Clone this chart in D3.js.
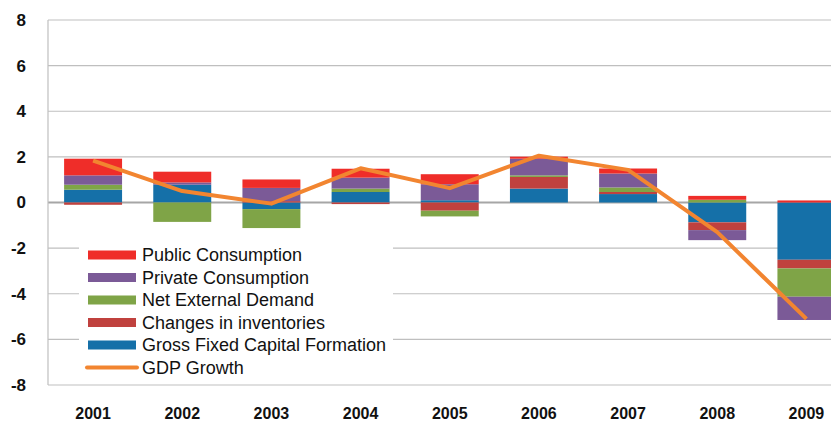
<!DOCTYPE html>
<html>
<head>
<meta charset="utf-8">
<script src="https://cdn.jsdelivr.net/npm/d3@7"></script>
<style>
body { margin: 0; background: #fff; }
svg { display: block; }
</style>
</head>
<body>
<script>
var width = 831,
    height = 428;

var years = ["2001", "2002", "2003", "2004", "2005", "2006", "2007", "2008", "2009"];
var gfcf        = [0.56, 0.78, -0.29, 0.46, 0.10, 0.61, 0.37, -0.87, -2.51];
var inventories = [-0.10, 0.00, 0.06, -0.07, -0.36, 0.51, 0.09, -0.34, -0.38];
var netExternal = [0.22, -0.85, -0.83, 0.15, -0.25, 0.07, 0.20, 0.12, -1.24];
var privateCons = [0.41, 0.10, 0.58, 0.48, 0.70, 0.73, 0.61, -0.44, -1.02];
var publicCons  = [0.73, 0.47, 0.37, 0.39, 0.44, 0.09, 0.22, 0.17, 0.09];
var gdpGrowth   = [1.84, 0.50, -0.05, 1.50, 0.63, 2.05, 1.43, -1.30, -5.10];
var yTicks = [-8, -6, -4, -2, 0, 2, 4, 6, 8];

var series = [
    { key: "gfcf", name: "Gross Fixed Capital Formation", color: "#1570a8", values: gfcf },
    { key: "inv", name: "Changes in inventories", color: "#c0413e", values: inventories },
    { key: "ned", name: "Net External Demand", color: "#7fa447", values: netExternal },
    { key: "priv", name: "Private Consumption", color: "#7b5a97", values: privateCons },
    { key: "pub", name: "Public Consumption", color: "#ef2d29", values: publicCons }
];

var rows = years.map(function(y, i) {
    var r = { year: y };
    series.forEach(function(s) { r[s.key] = s.values[i]; });
    return r;
});

var stack = d3.stack()
    .keys(series.map(function(s) { return s.key; }))
    .offset(d3.stackOffsetDiverging);
var stacked = stack(rows);

var x = d3.scaleBand()
    .domain(years)
    .range([48.5, 851])
    .paddingInner(0.35)
    .paddingOuter(0.175);

var y = d3.scaleLinear()
    .domain([-8, 8])
    .range([385, 20]);

var svg = d3.select("body").append("svg")
    .attr("width", width)
    .attr("height", height);

// gridlines
svg.append("g").selectAll("line")
    .data(yTicks)
    .enter().append("line")
    .attr("x1", 48).attr("x2", 851)
    .attr("y1", function(d) { return y(d); })
    .attr("y2", function(d) { return y(d); })
    .attr("stroke", function(d) { return d === 0 ? "#a6a6a6" : "#bfbfbf"; })
    .attr("stroke-width", function(d) { return d === 0 ? 2 : 1.2; });

// left axis line
svg.append("line")
    .attr("x1", 48).attr("x2", 48)
    .attr("y1", y(8)).attr("y2", y(-8))
    .attr("stroke", "#bfbfbf").attr("stroke-width", 1.2);

// bars
var color = {};
series.forEach(function(s) { color[s.key] = s.color; });

svg.append("g").selectAll("g")
    .data(stacked)
    .enter().append("g")
    .attr("fill", function(d) { return color[d.key]; })
    .selectAll("rect")
    .data(function(d) { return d; })
    .enter().append("rect")
    .attr("x", function(d) { return x(d.data.year); })
    .attr("width", x.bandwidth())
    .attr("y", function(d) { return y(Math.max(d[0], d[1])); })
    .attr("height", function(d) { return Math.abs(y(d[0]) - y(d[1])); });

// GDP line
var line = d3.line()
    .x(function(d, i) { return x(years[i]) + x.bandwidth() / 2; })
    .y(function(d) { return y(d); });

svg.append("path")
    .datum(gdpGrowth)
    .attr("d", line)
    .attr("fill", "none")
    .attr("stroke", "#f28530")
    .attr("stroke-width", 4)
    .attr("stroke-linejoin", "round");

// y labels
var yAxis = svg.append("g")
    .attr("transform", "translate(48,0)")
    .call(d3.axisLeft(y).tickValues(yTicks).tickSize(0).tickPadding(22)
        .tickFormat(function(d) { return String(d); }));
yAxis.select(".domain").remove();
yAxis.selectAll("text")
    .attr("font-family", "Liberation Sans, Arial, sans-serif")
    .attr("font-size", 17)
    .attr("font-weight", "bold")
    .attr("fill", "#111");

// x labels
var xAxis = svg.append("g")
    .attr("transform", "translate(0," + y(-8) + ")")
    .call(d3.axisBottom(x).tickSize(0).tickPadding(23));
xAxis.select(".domain").remove();
xAxis.selectAll("text")
    .attr("font-family", "Liberation Sans, Arial, sans-serif")
    .attr("font-size", 16)
    .attr("font-weight", "bold")
    .attr("fill", "#111");

// legend
var legendItems = series.slice().reverse().map(function(s) {
    return { name: s.name, color: s.color, type: "rect" };
});
legendItems.push({ name: "GDP Growth", color: "#f28530", type: "line" });

var legend = svg.append("g");
legend.append("rect")
    .attr("x", 79).attr("y", 241)
    .attr("width", 314).attr("height", 138)
    .attr("fill", "#fff");

var item = legend.selectAll("g")
    .data(legendItems)
    .enter().append("g")
    .attr("transform", function(d, i) { return "translate(0," + (255 + i * 22.5) + ")"; });

item.filter(function(d) { return d.type === "rect"; })
    .append("rect")
    .attr("x", 88).attr("y", -4.5)
    .attr("width", 48).attr("height", 9)
    .attr("fill", function(d) { return d.color; });

item.filter(function(d) { return d.type === "line"; })
    .append("line")
    .attr("x1", 87).attr("x2", 137)
    .attr("stroke", function(d) { return d.color; })
    .attr("stroke-width", 4)
    .attr("stroke-linecap", "round");

item.append("text")
    .attr("x", 142)
    .attr("dy", "0.35em")
    .attr("font-family", "Liberation Sans, Arial, sans-serif")
    .attr("font-size", 18)
    .attr("fill", "#111")
    .text(function(d) { return d.name; });
</script>
</body>
</html>
